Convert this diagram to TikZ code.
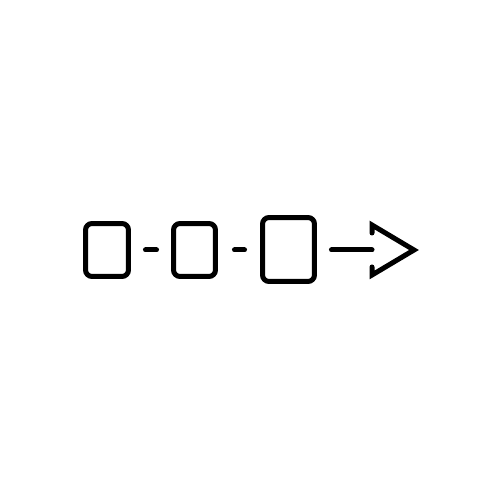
\documentclass[tikz,border=0pt]{standalone}
\usepackage{tikz}
\usetikzlibrary{shapes,arrows}
\tikzstyle{card} = [rectangle, draw, line width=0.1cm, rounded corners=0.13cm, inner sep=0pt]
\tikzstyle{link} = [draw, line width=0.1cm, line cap=round]
\tikzstyle{arrowhead} = [draw, line width=0.1cm, line cap=round, line join=miter]

\begin{document}
\begin{tikzpicture}[x=0.02cm, y=0.02cm]
\useasboundingbox[fill=white] (0, 0) rectangle (500, 500);

%% steps
\node[card, minimum width=0.86cm, minimum height=1.06cm] at (107, 250) (first) {};
\node[card, minimum width=0.84cm, minimum height=1.06cm] at (194.5, 250) (second) {};
\node[card, minimum width=1.04cm, minimum height=1.28cm] at (288.5, 250.5) (third) {};

%% dashes
\path[link, shorten <=0.29cm, shorten >=0.29cm] (first.east) -- (second.west);
\path[link, shorten <=0.33cm, shorten >=0.31cm] (second.east) -- (third.west |- second.east);

%% arrow
\coordinate (back) at (372, 250);
\coordinate (tip) at (414, 250);
\path[link, shorten <=0.29cm] (third.east |- back) -- (back);
\path[arrowhead] ([yshift=0.34cm]back) -- ([yshift=0.5cm]back) -- (tip) -- ([yshift=-0.5cm]back) -- ([yshift=-0.34cm]back);

\end{tikzpicture}
\end{document}
